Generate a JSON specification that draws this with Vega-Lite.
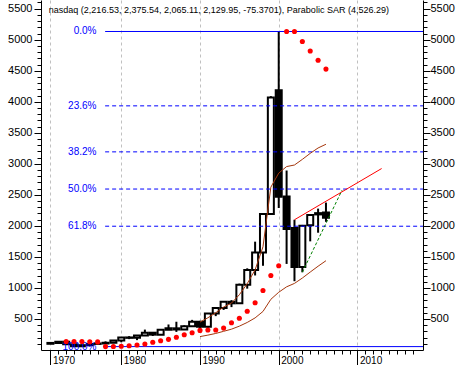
{
  "$schema": "https://vega.github.io/schema/vega-lite/v6.json",
  "width": 382,
  "height": 350,
  "autosize": {"type": "none"},
  "padding": {"left": 41, "top": 0, "right": 41, "bottom": 15},
  "background": "white",
  "config": {
    "view": {"stroke": null},
    "font": "Liberation Sans",
    "axis": {"grid": false, "domainColor": "black", "tickColor": "black", "labelColor": "black", "labelFont": "Liberation Sans", "labelFontSize": 11}
  },
  "datasets": {
    "ohlc": [
      {"year": 1971, "open": 100.0, "high": 114.12, "low": 99.68, "close": 114.12},
      {"year": 1972, "open": 114.12, "high": 135.15, "low": 113.65, "close": 133.73},
      {"year": 1973, "open": 133.73, "high": 136.84, "low": 88.67, "close": 92.19},
      {"year": 1974, "open": 92.19, "high": 96.53, "low": 54.87, "close": 59.82},
      {"year": 1975, "open": 59.82, "high": 88.0, "low": 59.82, "close": 77.62},
      {"year": 1976, "open": 77.62, "high": 97.88, "low": 77.62, "close": 97.88},
      {"year": 1977, "open": 97.88, "high": 105.05, "low": 93.66, "close": 105.05},
      {"year": 1978, "open": 105.05, "high": 139.25, "low": 99.09, "close": 117.98},
      {"year": 1979, "open": 117.98, "high": 152.29, "low": 117.84, "close": 151.14},
      {"year": 1980, "open": 151.14, "high": 208.15, "low": 124.09, "close": 202.34},
      {"year": 1981, "open": 202.34, "high": 223.47, "low": 175.03, "close": 195.84},
      {"year": 1982, "open": 195.84, "high": 240.7, "low": 159.14, "close": 232.41},
      {"year": 1983, "open": 232.41, "high": 328.91, "low": 230.59, "close": 278.6},
      {"year": 1984, "open": 278.6, "high": 287.9, "low": 225.3, "close": 247.35},
      {"year": 1985, "open": 247.35, "high": 325.16, "low": 245.91, "close": 324.93},
      {"year": 1986, "open": 324.93, "high": 411.16, "low": 323.01, "close": 349.33},
      {"year": 1987, "open": 349.33, "high": 455.26, "low": 291.88, "close": 330.47},
      {"year": 1988, "open": 330.47, "high": 397.54, "low": 330.47, "close": 381.38},
      {"year": 1989, "open": 381.38, "high": 485.73, "low": 378.56, "close": 454.82},
      {"year": 1990, "open": 454.82, "high": 469.6, "low": 322.93, "close": 373.84},
      {"year": 1991, "open": 373.84, "high": 586.35, "low": 353.0, "close": 586.34},
      {"year": 1992, "open": 586.34, "high": 676.95, "low": 545.85, "close": 676.95},
      {"year": 1993, "open": 676.95, "high": 787.42, "low": 645.87, "close": 776.8},
      {"year": 1994, "open": 776.8, "high": 803.93, "low": 691.15, "close": 751.96},
      {"year": 1995, "open": 751.96, "high": 1069.79, "low": 743.58, "close": 1052.13},
      {"year": 1996, "open": 1052.13, "high": 1316.27, "low": 988.57, "close": 1291.03},
      {"year": 1997, "open": 1291.03, "high": 1745.85, "low": 1201.0, "close": 1570.35},
      {"year": 1998, "open": 1570.35, "high": 2200.63, "low": 1357.09, "close": 2192.69},
      {"year": 1999, "open": 2192.69, "high": 4090.61, "low": 2192.69, "close": 4069.31},
      {"year": 2000, "open": 4186.19, "high": 5132.52, "low": 2288.16, "close": 2470.52},
      {"year": 2001, "open": 2474.16, "high": 2892.36, "low": 1387.06, "close": 1950.4},
      {"year": 2002, "open": 1965.16, "high": 2098.88, "low": 1108.49, "close": 1335.51},
      {"year": 2003, "open": 1335.51, "high": 2015.23, "low": 1253.22, "close": 2003.37},
      {"year": 2004, "open": 2011.08, "high": 2178.34, "low": 1750.82, "close": 2175.44},
      {"year": 2005, "open": 2184.75, "high": 2278.16, "low": 1889.83, "close": 2205.32},
      {"year": 2006, "open": 2216.53, "high": 2375.54, "low": 2065.11, "close": 2129.95}
    ],
    "sar": [
      {"year": 1973, "sar": 136.84}, {"year": 1974, "sar": 136.84}, {"year": 1975, "sar": 136.84},
      {"year": 1976, "sar": 133.56}, {"year": 1977, "sar": 130.41}, {"year": 1978, "sar": 54.87},
      {"year": 1979, "sar": 56.56}, {"year": 1980, "sar": 60.39}, {"year": 1981, "sar": 69.26},
      {"year": 1982, "sar": 81.6}, {"year": 1983, "sar": 97.51}, {"year": 1984, "sar": 125.28},
      {"year": 1985, "sar": 149.72}, {"year": 1986, "sar": 171.22}, {"year": 1987, "sar": 204.81},
      {"year": 1988, "sar": 244.88}, {"year": 1989, "sar": 278.54}, {"year": 1990, "sar": 315.83},
      {"year": 1991, "sar": 322.93}, {"year": 1992, "sar": 322.93}, {"year": 1993, "sar": 353.0},
      {"year": 1994, "sar": 439.88}, {"year": 1995, "sar": 512.69}, {"year": 1996, "sar": 624.11},
      {"year": 1997, "sar": 762.54}, {"year": 1998, "sar": 959.2}, {"year": 1999, "sar": 1201.0},
      {"year": 2000, "sar": 1357.09}, {"year": 2001, "sar": 5132.52}, {"year": 2002, "sar": 5132.52},
      {"year": 2003, "sar": 4971.56}, {"year": 2004, "sar": 4817.0}, {"year": 2005, "sar": 4668.7},
      {"year": 2006, "sar": 4526.29}
    ],
    "bands": [
      {"year": 1990, "upper": 450.0, "sma": 216.0},
      {"year": 1991, "upper": 518.8, "sma": 239.7},
      {"year": 1992, "upper": 599.9, "sma": 266.8},
      {"year": 1993, "upper": 691.2, "sma": 301.0},
      {"year": 1994, "upper": 755.7, "sma": 335.7},
      {"year": 1995, "upper": 890.6, "sma": 384.4},
      {"year": 1996, "upper": 1068.6, "sma": 444.0},
      {"year": 1997, "upper": 1291.5, "sma": 517.3},
      {"year": 1998, "upper": 1663.0, "sma": 621.0},
      {"year": 1999, "upper": 2624.1, "sma": 816.9},
      {"year": 2000, "upper": 2850.3, "sma": 930.4},
      {"year": 2001, "upper": 2955.9, "sma": 1018.1},
      {"year": 2002, "upper": 2981.0, "sma": 1073.2},
      {"year": 2003, "upper": 3071.8, "sma": 1159.5},
      {"year": 2004, "upper": 3168.9, "sma": 1255.9},
      {"year": 2005, "upper": 3255.5, "sma": 1349.9},
      {"year": 2006, "upper": 3315.3, "sma": 1438.9}
    ],
    "trend": [
      {"name": "resistance", "year": 2002, "value": 2098.88},
      {"name": "resistance", "year": 2013.07, "value": 2924},
      {"name": "support", "year": 2003, "value": 1253.22},
      {"name": "support", "year": 2008.04, "value": 2575}
    ],
    "fib": [
      {"label": "0.0%", "value": 5132.52},
      {"label": "23.6%", "value": 3934.19},
      {"label": "38.2%", "value": 3192.86},
      {"label": "50.0%", "value": 2593.7},
      {"label": "61.8%", "value": 1994.53},
      {"label": "100.0%", "value": 54.87}
    ],
    "head": [
      {"text": "nasdaq (2,216.53, 2,375.54, 2,065.11, 2,129.95, -75.3701), Parabolic SAR (4,526.29)"}
    ]
  },
  "resolve": {"axis": {"x": "independent", "y": "independent"}},
  "layer": [
    {
      "data": {"name": "ohlc"},
      "mark": {"type": "rule", "color": "black", "strokeWidth": 2},
      "encoding": {
        "x": {"field": "year", "type": "quantitative", "scale": {"domain": [1970.44, 2017.69], "nice": false, "zero": false},
          "axis": {"orient": "bottom", "values": [1971, 1980, 1990, 2000, 2010], "format": "d", "labelExpr": "datum.value < 1975 ? '1970' : datum.label", "grid": true, "gridColor": "#c0c0c0", "gridDash": [3, 3], "tickSize": 15, "labelAlign": "left", "labelBaseline": "top", "labelPadding": -10, "labelOffset": 2, "labelFontSize": 10, "labelOverlap": false, "labelFlush": false, "title": null}},
        "y": {"field": "low", "type": "quantitative", "scale": {"domain": [0, 5640], "nice": false, "zero": false},
          "axis": {"orient": "left", "values": [500, 1000, 1500, 2000, 2500, 3000, 3500, 4000, 4500, 5000, 5500], "format": "d", "tickSize": 7, "labelPadding": 2, "labelFontSize": 11, "labelOverlap": false, "title": null}},
        "y2": {"field": "high"}
      }
    },
    {
      "data": {"name": "ohlc"},
      "mark": {"type": "bar", "size": 6, "stroke": "black", "strokeWidth": 2},
      "encoding": {
        "x": {"field": "year", "type": "quantitative", "scale": {"domain": [1970.44, 2017.69], "nice": false, "zero": false},
          "axis": {"orient": "bottom", "values": [1972, 1973, 1974, 1975, 1976, 1977, 1978, 1979, 1981, 1982, 1983, 1984, 1985, 1986, 1987, 1988, 1989, 1991, 1992, 1993, 1994, 1995, 1996, 1997, 1998, 1999, 2001, 2002, 2003, 2004, 2005, 2006, 2007, 2008, 2009, 2011, 2012, 2013, 2014, 2015, 2016, 2017], "tickSize": 4, "labels": false, "domain": false, "grid": false, "title": null}},
        "y": {"field": "open", "type": "quantitative", "scale": {"domain": [0, 5640], "nice": false, "zero": false},
          "axis": {"orient": "left", "values": [100, 200, 300, 400, 600, 700, 800, 900, 1100, 1200, 1300, 1400, 1600, 1700, 1800, 1900, 2100, 2200, 2300, 2400, 2600, 2700, 2800, 2900, 3100, 3200, 3300, 3400, 3600, 3700, 3800, 3900, 4100, 4200, 4300, 4400, 4600, 4700, 4800, 4900, 5100, 5200, 5300, 5400, 5600], "tickSize": 4, "labels": false, "domain": false, "title": null}},
        "y2": {"field": "close"},
        "fill": {"condition": {"test": "datum.close >= datum.open", "value": "white"}, "value": "black"}
      }
    },
    {
      "data": {"name": "fib"},
      "transform": [{"filter": "datum.label == '0.0%' || datum.label == '100.0%'"}],
      "mark": {"type": "rule", "color": "#0000ff", "strokeWidth": 1},
      "encoding": {
        "x": {"datum": 1977.95, "type": "quantitative", "scale": {"domain": [1970.44, 2017.69], "nice": false, "zero": false}, "axis": null},
        "x2": {"value": "width"},
        "y": {"field": "value", "type": "quantitative", "scale": {"domain": [0, 5640], "nice": false, "zero": false}, "axis": null}
      }
    },
    {
      "data": {"name": "fib"},
      "transform": [{"filter": "datum.label != '0.0%' && datum.label != '100.0%'"}],
      "mark": {"type": "rule", "color": "#0000ff", "strokeWidth": 1, "strokeDash": [4, 3]},
      "encoding": {
        "x": {"datum": 1977.95, "type": "quantitative", "scale": {"domain": [1970.44, 2017.69], "nice": false, "zero": false}, "axis": null},
        "x2": {"value": "width"},
        "y": {"field": "value", "type": "quantitative", "scale": {"domain": [0, 5640], "nice": false, "zero": false}, "axis": null}
      }
    },
    {
      "data": {"name": "fib"},
      "mark": {"type": "text", "color": "#0000ff", "align": "right", "baseline": "middle", "fontSize": 10, "font": "Liberation Sans"},
      "encoding": {
        "x": {"datum": 1976.85, "type": "quantitative", "scale": {"domain": [1970.44, 2017.69], "nice": false, "zero": false}, "axis": null},
        "y": {"field": "value", "type": "quantitative", "scale": {"domain": [0, 5640], "nice": false, "zero": false}, "axis": null},
        "text": {"field": "label"}
      }
    },
    {
      "data": {"name": "bands"},
      "mark": {"type": "line", "color": "#a5360c", "strokeWidth": 1},
      "encoding": {
        "x": {"field": "year", "type": "quantitative", "scale": {"domain": [1970.44, 2017.69], "nice": false, "zero": false}, "axis": null},
        "y": {"field": "upper", "type": "quantitative", "scale": {"domain": [0, 5640], "nice": false, "zero": false},
          "axis": {"orient": "right", "values": [500, 1000, 1500, 2000, 2500, 3000, 3500, 4000, 4500, 5000, 5500], "format": "d", "tickSize": 7, "labelPadding": 0, "labelFontSize": 11, "labelOverlap": false, "title": null}}
      }
    },
    {
      "data": {"name": "bands"},
      "mark": {"type": "line", "color": "#a5360c", "strokeWidth": 1},
      "encoding": {
        "x": {"field": "year", "type": "quantitative", "scale": {"domain": [1970.44, 2017.69], "nice": false, "zero": false}, "axis": null},
        "y": {"field": "sma", "type": "quantitative", "scale": {"domain": [0, 5640], "nice": false, "zero": false},
          "axis": {"orient": "right", "values": [100, 200, 300, 400, 600, 700, 800, 900, 1100, 1200, 1300, 1400, 1600, 1700, 1800, 1900, 2100, 2200, 2300, 2400, 2600, 2700, 2800, 2900, 3100, 3200, 3300, 3400, 3600, 3700, 3800, 3900, 4100, 4200, 4300, 4400, 4600, 4700, 4800, 4900, 5100, 5200, 5300, 5400, 5600], "tickSize": 4, "labels": false, "domain": false, "title": null}}
      }
    },
    {
      "data": {"name": "trend"},
      "transform": [{"filter": "datum.name == 'resistance'"}],
      "mark": {"type": "line", "color": "#ff0000", "strokeWidth": 1},
      "encoding": {
        "x": {"field": "year", "type": "quantitative", "scale": {"domain": [1970.44, 2017.69], "nice": false, "zero": false}, "axis": null},
        "y": {"field": "value", "type": "quantitative", "scale": {"domain": [0, 5640], "nice": false, "zero": false}, "axis": null}
      }
    },
    {
      "data": {"name": "trend"},
      "transform": [{"filter": "datum.name == 'support'"}],
      "mark": {"type": "line", "color": "#008000", "strokeWidth": 1, "strokeDash": [3, 2]},
      "encoding": {
        "x": {"field": "year", "type": "quantitative", "scale": {"domain": [1970.44, 2017.69], "nice": false, "zero": false}, "axis": null},
        "y": {"field": "value", "type": "quantitative", "scale": {"domain": [0, 5640], "nice": false, "zero": false}, "axis": null}
      }
    },
    {
      "data": {"name": "sar"},
      "mark": {"type": "circle", "color": "#ff0000", "size": 26, "opacity": 1},
      "encoding": {
        "x": {"field": "year", "type": "quantitative", "scale": {"domain": [1970.44, 2017.69], "nice": false, "zero": false}, "axis": null},
        "y": {"field": "sar", "type": "quantitative", "scale": {"domain": [0, 5640], "nice": false, "zero": false}, "axis": null}
      }
    },
    {
      "data": {"name": "head"},
      "mark": {"type": "text", "color": "black", "align": "left", "baseline": "middle", "fontSize": 9, "font": "Liberation Sans"},
      "encoding": {
        "x": {"datum": 1970.8, "type": "quantitative", "scale": {"domain": [1970.44, 2017.69], "nice": false, "zero": false}, "axis": null},
        "y": {"datum": 5476, "type": "quantitative", "scale": {"domain": [0, 5640], "nice": false, "zero": false}, "axis": null},
        "text": {"field": "text"}
      }
    }
  ]
}
